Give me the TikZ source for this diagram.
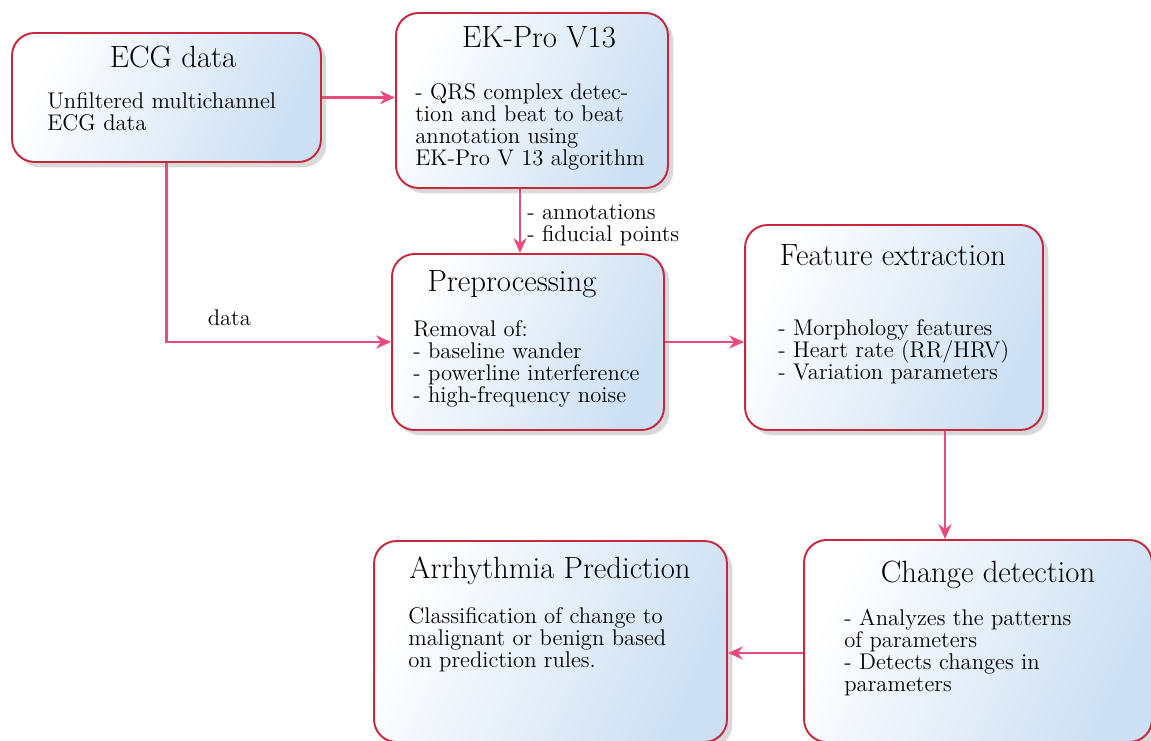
\documentclass[tikz,border=0pt]{standalone}
\usepackage{fontspec}
\usetikzlibrary{arrows.meta, shadows}

\definecolor{boxred}{RGB}{198,40,62}
\definecolor{arrowpink}{RGB}{233,76,124}
\definecolor{boxblue}{RGB}{204,223,243}

\begin{document}
\begin{tikzpicture}[x=0.02cm, y=-0.02cm,
		box/.style 2 args={draw=boxred, line width=1.1pt, rounded corners=0.45cm,
			top color=white, bottom color=boxblue, shading angle=65,
			drop shadow={shadow xshift=3pt, shadow yshift=-3pt, opacity=0.3},
			minimum width=#1, minimum height=#2},
		title/.style={anchor=north, inner sep=0pt, font=\fontsize{17.5}{19}\selectfont},
		body/.style={anchor=north west, inner sep=0pt, align=left,
			font=\fontsize{12.9}{12.6}\selectfont},
		flow/.style={draw=arrowpink, line width=1.2pt, -{Stealth[length=8.5pt, width=7.5pt]}}]
			\useasboundingbox (0, 0) rectangle (1151, 740);

			\node [box={6.18cm}{2.58cm}] (ecg) at (166.5, 97.5) {};
			\node [title] (ecgtitle) at (173, 46) {ECG data};
			\node [body] (ecgtext) at (47, 92) {Unfiltered multichannel\\ECG data};

			\node [box={5.44cm}{3.5cm}] (ekpro) at (532, 100.5) {};
			\node [title] (ekprotitle) at (539, 26) {EK-Pro V13};
			\node [body] (ekprotext) at (415, 83) {- QRS complex detec-\\tion and beat to beat\\annotation using\\EK-Pro V 13 algorithm};

			\node [box={5.44cm}{3.52cm}] (prep) at (528, 342) {};
			\node [title] (preptitle) at (512, 270) {Preprocessing};
			\node [body] (preptext) at (413, 320) {Removal of:\\- baseline wander\\- powerline interference\\- high-frequency noise};

			\node [box={5.96cm}{4.1cm}] (feat) at (894, 327.5) {};
			\node [title] (feattitle) at (893, 244) {Feature extraction};
			\node [body] (feattext) at (778, 319) {- Morphology features\\- Heart rate (RR/HRV)\\- Variation parameters};

			\node [box={6.96cm}{4.04cm}] (change) at (978, 641) {};
			\node [title] (changetitle) at (988, 561) {Change detection};
			\node [body] (changetext) at (844, 609) {- Analyzes the patterns\\of parameters\\- Detects changes in\\parameters};

			\node [box={7.06cm}{4.02cm}] (pred) at (550.5, 641.5) {};
			\node [title] (predtitle) at (550, 556) {Arrhythmia Prediction};
			\node [body] (predtext) at (408, 607) {Classification of change to\\malignant or benign based\\on prediction rules.};

			\coordinate (ekproout) at ([xshift=-0.24cm]ekpro.south);
			\coordinate (featout) at ([xshift=1.02cm]feat.south);
			\coordinate (changeout) at ([yshift=-0.24cm]change.west);

			\draw [flow] (ecg.east) -- (ecg.east -| ekpro.west);
			\draw [flow] (ekproout) -- (ekproout |- prep.north);
			\node [body] (annot) at (527, 204) {- annotations\\- fiducial points};
			\draw [flow] (ecg.south) |- node [body, pos=0.64, above=0.3cm] (datatag) {data} (prep.west);
			\draw [flow] (prep.east) -- (prep.east -| feat.west);
			\draw [flow] (featout) -- (featout |- change.north);
			\draw [flow] (changeout) -- (changeout -| pred.east);
		\end{tikzpicture}
\end{document}
